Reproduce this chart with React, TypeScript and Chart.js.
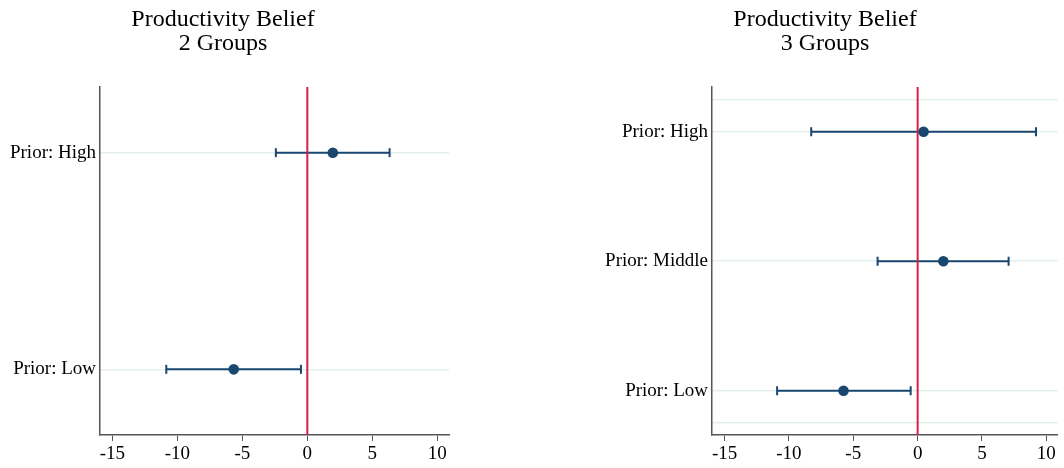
import React, { useEffect, useRef } from 'react';
import { Chart, registerables } from 'chart.js';

Chart.register(...registerables);

// ---- Data ----
const xTicks = [-15, -10, -5, 0, 5, 10];

const twoGroupLabels = ['Prior: High', 'Prior: Low'];
const twoGroupEst = [1.96, -5.66];
const twoGroupLo = [-2.42, -10.85];
const twoGroupHi = [6.33, -0.49];

const threeGroupLabels = ['Prior: High', 'Prior: Middle', 'Prior: Low'];
const threeGroupEst = [0.46, 2.0, -5.76];
const threeGroupLo = [-8.27, -3.11, -10.92];
const threeGroupHi = [9.2, 7.07, -0.54];

const NAVY = '#1a476f';
const RED = '#d91e4a';
const AXIS = '#555555';
const GRID = '#e6eff0';
const FONT = "'Liberation Serif', 'Times New Roman', serif";

interface PanelSpec {
  title: string[];
  labels: string[];
  est: number[];
  lo: number[];
  hi: number[];
  xMin: number;
  xMax: number;
  yMin: number;
  yMax: number;
  extraGrid: number[];
  yAxisWidth: number;
  padRight: number;
}

function buildConfig(p: PanelSpec): any {
  const n = p.labels.length;
  const yPos = p.labels.map((_, i) => n - i);
  const datasets: any[] = [];
  // point estimates
  datasets.push({
    type: 'scatter',
    data: p.est.map((v, i) => ({ x: v, y: yPos[i] })),
    pointRadius: 5.3,
    pointBackgroundColor: NAVY,
    pointBorderColor: NAVY,
    pointBorderWidth: 0,
    order: 0,
  });
  // zero reference line
  datasets.push({
    type: 'line',
    data: [
      { x: 0, y: p.yMin },
      { x: 0, y: p.yMax },
    ],
    borderColor: RED,
    borderWidth: 2,
    pointRadius: 0,
    order: 1,
  });
  // confidence intervals
  p.lo.forEach((l, i) => {
    datasets.push({
      type: 'line',
      data: [
        { x: l, y: yPos[i] },
        { x: p.hi[i], y: yPos[i] },
      ],
      borderColor: NAVY,
      borderWidth: 2,
      pointStyle: 'line',
      pointRotation: 90,
      pointRadius: 4.5,
      pointBorderWidth: 2,
      pointBorderColor: NAVY,
      order: 2,
    });
  });

  const yTickVals = [...yPos, ...p.extraGrid].sort((a, b) => a - b);
  const labelFor = (v: number) => {
    const idx = yPos.indexOf(v);
    return idx >= 0 ? p.labels[idx] : '';
  };

  return {
    type: 'scatter',
    data: { datasets },
    options: {
      animation: false,
      responsive: false,
      maintainAspectRatio: false,
      events: [],
      layout: { padding: { left: 0, right: p.padRight, top: 0, bottom: 0 } },
      plugins: {
        legend: { display: false },
        tooltip: { enabled: false },
        title: {
          display: true,
          text: p.title,
          color: '#000',
          font: { family: FONT, size: 24, weight: 'normal', lineHeight: 0.98 },
          padding: { top: 8, bottom: 32 },
        },
      },
      scales: {
        x: {
          type: 'linear',
          min: p.xMin,
          max: p.xMax,
          afterBuildTicks: (s: any) => {
            s.ticks = xTicks.map((v) => ({ value: v }));
          },
          afterFit: (s: any) => {
            s.height = 33;
          },
          ticks: {
            color: '#000',
            font: { family: FONT, size: 19 },
            padding: 2,
            autoSkip: false,
            maxRotation: 0,
            callback: (v: any) => String(v),
          },
          grid: {
            drawOnChartArea: false,
            drawTicks: true,
            tickLength: 6,
            tickColor: AXIS,
            tickWidth: 1,
          },
          border: { display: true, color: AXIS, width: 1.5 },
        },
        y: {
          type: 'linear',
          min: p.yMin,
          max: p.yMax,
          afterBuildTicks: (s: any) => {
            s.ticks = yTickVals.map((v) => ({ value: v }));
          },
          afterFit: (s: any) => {
            s.width = p.yAxisWidth;
          },
          ticks: {
            color: '#000',
            font: { family: FONT, size: 19 },
            padding: 4,
            autoSkip: false,
            callback: (v: any) => labelFor(v),
          },
          grid: {
            drawOnChartArea: true,
            drawTicks: false,
            color: GRID,
            lineWidth: 1.5,
          },
          border: { display: true, color: AXIS, width: 1.5 },
        },
      },
    },
  };
}

function Panel(props: { spec: PanelSpec; left: number; width: number }) {
  const ref = useRef<HTMLCanvasElement | null>(null);
  useEffect(() => {
    if (!ref.current) return;
    const chart = new Chart(ref.current, buildConfig(props.spec));
    return () => chart.destroy();
  }, []);
  return (
    <div
      style={{
        position: 'fixed',
        left: props.left,
        top: 0,
        width: props.width,
        height: 468,
      }}
    >
      <canvas
        ref={ref}
        width={props.width}
        height={468}
        style={{ width: props.width, height: 468, display: 'block' }}
      />
    </div>
  );
}

const leftSpec: PanelSpec = {
  title: ['Productivity Belief', '2 Groups'],
  labels: twoGroupLabels,
  est: twoGroupEst,
  lo: twoGroupLo,
  hi: twoGroupHi,
  xMin: -15.95,
  xMax: 10.9,
  yMin: 0.697,
  yMax: 2.303,
  extraGrid: [],
  yAxisWidth: 103,
  padRight: 11,
};

const rightSpec: PanelSpec = {
  title: ['Productivity Belief', '3 Groups'],
  labels: threeGroupLabels,
  est: threeGroupEst,
  lo: threeGroupLo,
  hi: threeGroupHi,
  xMin: -15.98,
  xMax: 10.87,
  yMin: 0.658,
  yMax: 3.345,
  extraGrid: [0.75, 3.25],
  yAxisWidth: 122,
  padRight: 4,
};

export default function App() {
  return (
    <div style={{ position: 'relative', width: 1064, height: 468, background: '#fff' }}>
      <Panel spec={leftSpec} left={-3} width={463} />
      <Panel spec={rightSpec} left={590} width={474} />
    </div>
  );
}
